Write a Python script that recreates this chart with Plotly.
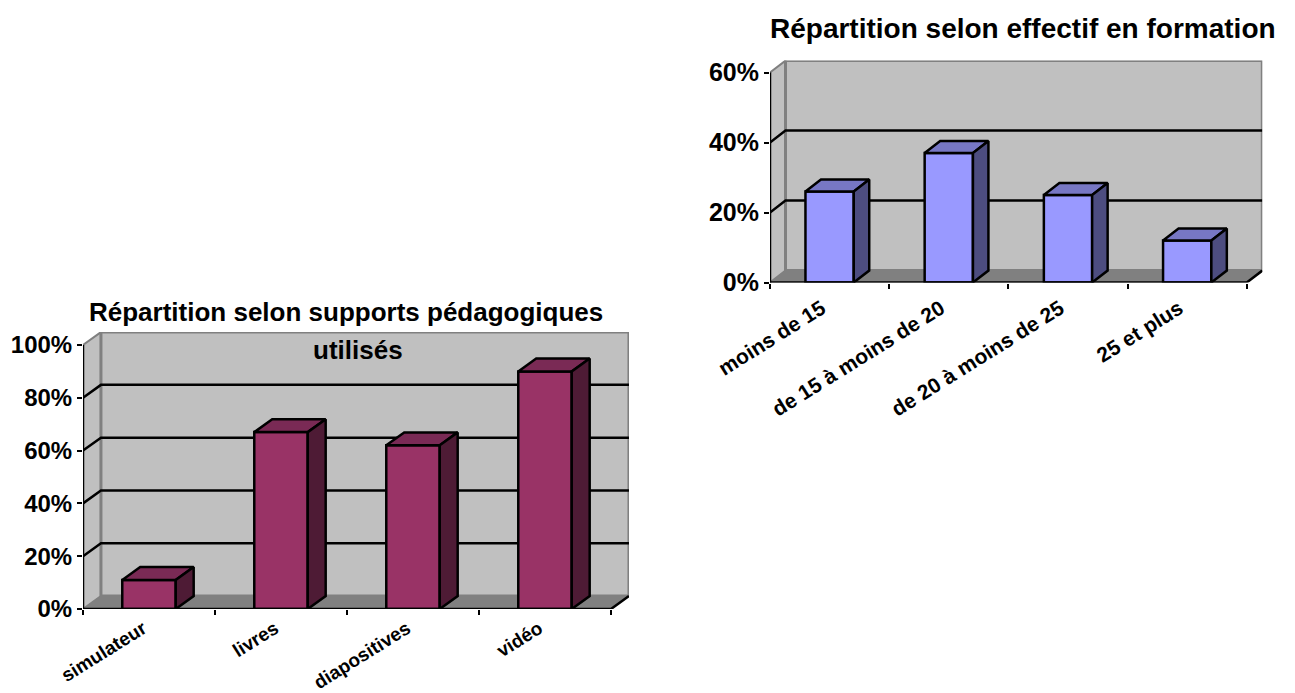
import plotly.graph_objects as go

W, H = 1295, 693

# Supports pédagogiques utilisés (share of respondents, %)
sup_categories = ["simulateur", "livres", "diapositives", "vidéo"]
sup_values = [11, 67, 62, 90]
sup_ticks = [0, 20, 40, 60, 80, 100]

# Effectif en formation (share, %)
eff_categories = ["moins de 15", "de 15 à moins de 20", "de 20 à moins de 25", "25 et plus"]
eff_values = [26, 37, 25, 12]
eff_ticks = [0, 20, 40, 60]

FONT = "Liberation Sans, Arial, sans-serif"
WALL = "#C0C0C0"
FLOOR = "#808080"
EDGE = "#808080"


def px_x(p):
    return p / W


def px_y(p):
    return 1 - p / H


fig = go.Figure()
shapes = []
annotations = []


def panel(idx, cats, vals, ticks, origin, ux, uy, dx, dy, colors, tick_size, cat_size,
          standoff, shift):
    """Draw a pseudo-3D column chart on axes x{idx}/y{idx}.

    origin: pixel position of the front-left corner of the floor,
    ux: pixels per category, uy: pixels per percent,
    dx, dy: depth offset in data units.
    """
    xa = "x" if idx == 1 else f"x{idx}"
    ya = "y" if idx == 1 else f"y{idx}"
    n = len(cats)
    ymax = ticks[-1]
    x0, x1 = -0.5, n - 0.5
    ox, oy = origin
    xr = [x0, x1 + dx]
    yr = [0, ymax + dy]
    xdom = [px_x(ox), px_x(ox + (xr[1] - xr[0]) * ux)]
    ydom = [px_y(oy), px_y(oy - yr[1] * uy)]

    axis_font = dict(family=FONT, size=tick_size, color="black", weight="bold")
    fig.update_layout(**{
        ("xaxis" if idx == 1 else f"xaxis{idx}"): dict(
            domain=xdom, range=xr, anchor=ya, showgrid=False, zeroline=False,
            showline=False, automargin=False, tickmode="array", tickvals=list(range(n)),
            ticktext=cats, ticks="", tickangle=-32, ticklabelstandoff=standoff,
            ticklabelshift=shift,
            tickfont=dict(family=FONT, size=cat_size, color="black", weight="bold"),
            minor=dict(tickmode="array", tickvals=[i - 0.5 for i in range(n + 1)],
                       ticks="outside", ticklen=5, tickwidth=2, tickcolor="black"),
            fixedrange=True,
        ),
        ("yaxis" if idx == 1 else f"yaxis{idx}"): dict(
            domain=ydom, range=yr, anchor=xa, showgrid=False, zeroline=False,
            showline=False, automargin=False, tickmode="array", tickvals=ticks,
            ticktext=[f"{t}%" for t in ticks], ticks="outside", ticklen=5,
            tickwidth=2, tickcolor="black", tickfont=axis_font, ticklabelstandoff=0,
            fixedrange=True,
        ),
    })

    def path(pts):
        return "M " + " L ".join(f"{x},{y}" for x, y in pts) + " Z"

    ref = dict(xref=xa, yref=ya)
    # side wall, back wall and floor
    shapes.append(dict(type="path", layer="below", **ref,
                       path=path([(x0, 0), (x0 + dx, dy), (x0 + dx, ymax + dy), (x0, ymax)]),
                       fillcolor=WALL, line=dict(color=EDGE, width=2)))
    shapes.append(dict(type="rect", layer="below", **ref,
                       x0=x0 + dx, x1=x1 + dx, y0=dy, y1=ymax + dy,
                       fillcolor=WALL, line=dict(color=EDGE, width=3)))
    shapes.append(dict(type="path", layer="below", **ref,
                       path=path([(x0, 0), (x1, 0), (x1 + dx, dy), (x0 + dx, dy)]),
                       fillcolor=FLOOR, line=dict(color=EDGE, width=1)))
    # gridlines on the side and back walls
    for t in ticks[1:-1]:
        shapes.append(dict(type="path", layer="below", **ref,
                           path=f"M {x0},{t} L {x0 + dx},{t + dy} L {x1 + dx},{t + dy}",
                           line=dict(color="black", width=2.5)))
    # value axis line and floor front edges
    shapes.append(dict(type="line", layer="above", **ref, x0=x0, x1=x0, y0=0, y1=ymax,
                       line=dict(color="black", width=2.5)))
    shapes.append(dict(type="path", layer="above", **ref,
                       path=f"M {x0},0 L {x1},0 L {x1 + dx},{dy}",
                       line=dict(color="black", width=2.5)))

    front, top, side = colors
    bw = 0.405
    fig.add_trace(go.Bar(x=list(range(n)), y=vals, width=bw, xaxis=xa, yaxis=ya,
                         marker=dict(color=front, line=dict(color="black", width=2.5)),
                         hoverinfo="skip", showlegend=False))
    for i, v in enumerate(vals):
        a, b = i - bw / 2, i + bw / 2
        top_pts = [(a, v), (b, v), (b + dx, v + dy), (a + dx, v + dy), (a, v)]
        side_pts = [(b, 0), (b + dx, dy), (b + dx, v + dy), (b, v), (b, 0)]
        for pts, col in ((top_pts, top), (side_pts, side)):
            fig.add_trace(go.Scatter(
                x=[p[0] for p in pts], y=[p[1] for p in pts], xaxis=xa, yaxis=ya,
                mode="lines", fill="toself", fillcolor=col,
                line=dict(color="black", width=2.5), hoverinfo="skip",
                showlegend=False, cliponaxis=False))


panel(1, sup_categories, sup_values, sup_ticks, origin=(83, 609), ux=132, uy=2.64,
      dx=0.136, dy=4.9, colors=("#993366", "#7A2A55", "#4E1B35"),
      tick_size=24, cat_size=19, standoff=4, shift=-6)
panel(2, eff_categories, eff_values, eff_ticks, origin=(770, 282.5), ux=119.2, uy=3.5,
      dx=0.13, dy=3.4, colors=("#9999FF", "#7777C4", "#4D4D80"),
      tick_size=25, cat_size=21, standoff=9, shift=-8)

title_font = dict(family=FONT, color="black", weight="bold")
annotations += [
    dict(text="Répartition selon supports pédagogiques", x=px_x(346), y=px_y(312),
         xref="paper", yref="paper", showarrow=False, xanchor="center", yanchor="middle",
         font=dict(size=26, **title_font)),
    dict(text="utilisés", x=px_x(358), y=px_y(350),
         xref="paper", yref="paper", showarrow=False, xanchor="center", yanchor="middle",
         font=dict(size=26, **title_font)),
    dict(text="Répartition selon effectif en formation", x=px_x(1023), y=px_y(28),
         xref="paper", yref="paper", showarrow=False, xanchor="center", yanchor="middle",
         font=dict(size=28, **title_font)),
]

fig.update_layout(
    width=W, height=H, margin=dict(l=0, r=0, t=0, b=0),
    paper_bgcolor="white", plot_bgcolor="rgba(0,0,0,0)",
    shapes=shapes, annotations=annotations, showlegend=False, barmode="overlay",
)

fig.write_html("out.html", config={"displayModeBar": False})
